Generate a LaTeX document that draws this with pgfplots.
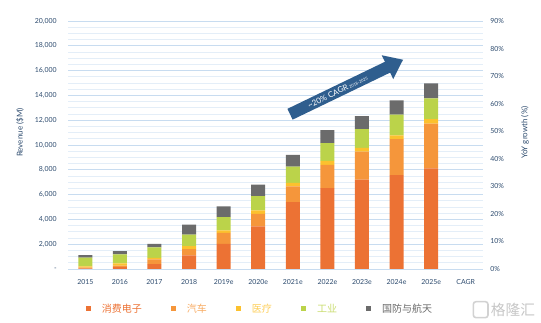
\documentclass[border=0pt]{standalone}
\usepackage{pgfplots}
\pgfplotsset{compat=1.18}
\usepackage{pgfplotstable}
\usepackage{fontspec}
\setmainfont{Lato}
\newfontfamily\cjk{Noto Sans CJK SC}
\usetikzlibrary{arrows.meta}
\definecolor{ce}{HTML}{EC7234}
\definecolor{au}{HTML}{F5963B}
\definecolor{me}{HTML}{FCC12E}
\definecolor{ind}{HTML}{BBD34A}
\definecolor{def}{HTML}{6B6B6B}
\definecolor{tk}{HTML}{2D4B6E}
\definecolor{gmaj}{HTML}{C8DCF0}
\definecolor{gmin}{HTML}{E4EEF8}
\definecolor{arr}{HTML}{2F5E8E}
\pgfplotstableread{
idx ce au me ind def
0 50 60 100 700 210
1 150 120 180 720 270
2 400 370 130 850 270
3 1090 510 240 930 800
4 2030 880 210 1070 850
5 3440 1010 270 1150 930
6 5390 1280 270 1310 960
7 6530 1870 320 1440 1040
8 7200 2270 290 1520 1040
9 7570 2910 290 1680 1150
10 8110 3620 350 1680 1200
}\data
\begin{document}
\begin{tikzpicture}
\path[use as bounding box] (0,0) rectangle (405.75pt,242.25pt);
\begin{axis}[
  at={(51pt,40.5pt)}, anchor=south west,
  scale only axis, width=311.25pt, height=186pt,
  ybar stacked, bar width=10.5pt,
  xmin=-0.5, xmax=11.5, ymin=0, ymax=20000,
  xtick={0,...,11},
  xticklabels={2015,2016,2017,2018,2019e,2020e,2021e,2022e,2023e,2024e,2025e,CAGR},
  ytick={0,2000,...,20000},
  scaled y ticks=false,
  yticklabels={{-},{2,000},{4,000},{6,000},{8,000},{10,000},{12,000},{14,000},{16,000},{18,000},{20,000}},
  minor y tick num=3,
  ymajorgrids, yminorgrids,
  major grid style={draw=gmaj, line width=0.7pt},
  minor grid style={draw=gmin, line width=0.5pt},
  axis line style={draw=none},
  major tick length=0pt, minor tick length=0pt,
  tick label style={font=\fontsize{5.2}{6}\selectfont, text=tk},
  /pgf/number format/assume math mode=true,
  xticklabel style={yshift=-4pt},
  yticklabel style={xshift=-5pt},
  ylabel={Revenue (\$M)},
  ylabel style={at={(axis description cs:-0.116,0.55)}, anchor=center, font=\fontsize{6}{7}\selectfont, text=tk},
  legend columns=5,
  legend style={at={(axis description cs:0.043,-0.161)}, anchor=west, draw=none, fill=none, inner sep=0pt,
    font=\cjk\fontsize{7.5}{9}\selectfont,
    /tikz/every even column/.append style={column sep=20pt}},
  legend image code/.code={\fill (0pt,-1.9pt) rectangle (3.8pt,1.9pt);},
  clip=false,
]
\addplot[fill=ce, draw=none] table[x=idx, y=ce]{\data};
\addlegendentry{\hspace{6pt}\textcolor{ce}{消费电子}}
\addplot[fill=au, draw=none] table[x=idx, y=au]{\data};
\addlegendentry{\hspace{6pt}\textcolor{au!80}{汽车}}
\addplot[fill=me, draw=none] table[x=idx, y=me]{\data};
\addlegendentry{\hspace{6pt}\textcolor{me!80}{医疗}}
\addplot[fill=ind, draw=none] table[x=idx, y=ind]{\data};
\addlegendentry{\hspace{6pt}\textcolor{ind!80}{工业}}
\addplot[fill=def, draw=none] table[x=idx, y=def]{\data};
\addlegendentry{\hspace{6pt}\textcolor{def}{国防与航天}}
\draw[arr, line width=9pt, -{Triangle[width=19pt,length=13pt]}] (5.92,12480) -- (9.19,16880)
  node[pos=0.42, sloped, text=white, font=\fontsize{6}{7}\selectfont, inner sep=0pt] {\textasciitilde 20\% CAGR\,{\fontsize{3}{3}\selectfont 2018-2025}};
\end{axis}
\begin{axis}[
  at={(51pt,40.5pt)}, anchor=south west,
  scale only axis, width=311.25pt, height=186pt,
  xmin=-0.5, xmax=11.5, ymin=0, ymax=90,
  hide x axis,
  axis y line*=right,
  y axis line style={draw=none},
  ytick={0,10,...,90},
  yticklabel={\pgfmathprintnumber{\tick}\%},
  major tick length=0pt,
  tick label style={font=\fontsize{5.2}{6}\selectfont, text=tk},
  /pgf/number format/assume math mode=true,
  yticklabel style={xshift=2pt},
  ylabel={YoY growth (\%)},
  ylabel style={at={(axis description cs:1.101,0.55)}, anchor=center, font=\fontsize{6}{7}\selectfont, text=tk},
]
\end{axis}
\draw[gray!35, line width=1.2pt, rounded corners=2pt] (355pt,4pt) rectangle (366pt,16pt);
\node[text=gray!45, font=\cjk\fontsize{11}{12}\selectfont, anchor=west, inner sep=0pt] at (368pt,10pt) {格隆汇};
\end{tikzpicture}
\end{document}
